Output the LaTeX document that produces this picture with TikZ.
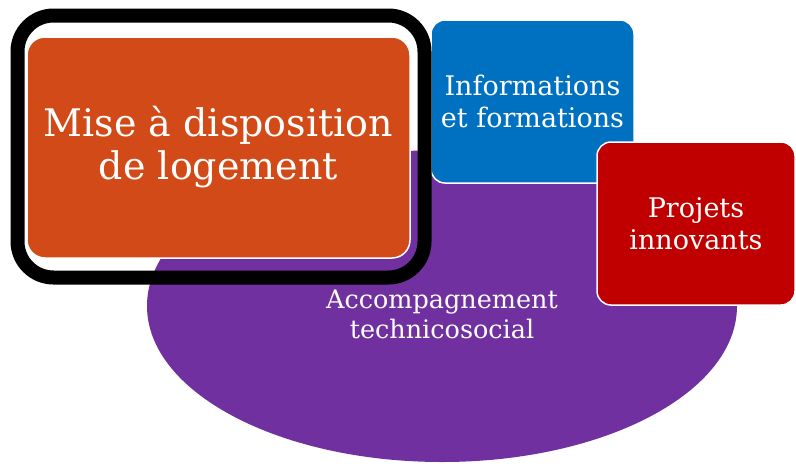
\documentclass[tikz,border=0pt]{standalone}
\usepackage{fontspec}
\setmainfont{DejaVu Serif}
\usetikzlibrary{shapes.geometric}
\definecolor{cOrange}{HTML}{D14A17}
\definecolor{cBlue}{HTML}{0070C0}
\definecolor{cRed}{HTML}{C00000}
\definecolor{cPurple}{HTML}{7030A0}
\tikzset{
  box/.style={rectangle, rounded corners=14pt, draw=white, line width=1.5pt, inner sep=0pt, align=center, text=white},
  lbl/.style={align=center, text=white, inner sep=0pt}
}
\begin{document}
\begin{tikzpicture}[x=1pt,y=-1pt]
\useasboundingbox (0,0) rectangle (796,467);
\node[ellipse, fill=cPurple, minimum width=590pt, minimum height=312pt, inner sep=0pt] (acc) at (442,306) {};
\node[lbl, font=\fontsize{25.5}{30}\selectfont] (acctext) at (442,314) {Accompagnement\\technicosocial};
\node[box, fill=cBlue, minimum width=203pt, minimum height=163pt, font=\fontsize{27}{32}\selectfont] (info) at (532.5,101.5) {Informations\\et formations};
\node[box, fill=cRed, minimum width=198pt, minimum height=163pt, font=\fontsize{27}{32}\selectfont] (proj) at (696,223.5) {Projets\\innovants};
\node[box, fill=cOrange, rounded corners=18pt, minimum width=383pt, minimum height=221pt, font=\fontsize{38}{43}\selectfont] (mise) at (218.5,147.5) {Mise à disposition\\de logement};
\node[rectangle, draw=black, line width=14pt, rounded corners=36pt, minimum width=407pt, minimum height=262pt, inner sep=0pt] (frame) at (221,146.5) {};
\end{tikzpicture}
\end{document}
